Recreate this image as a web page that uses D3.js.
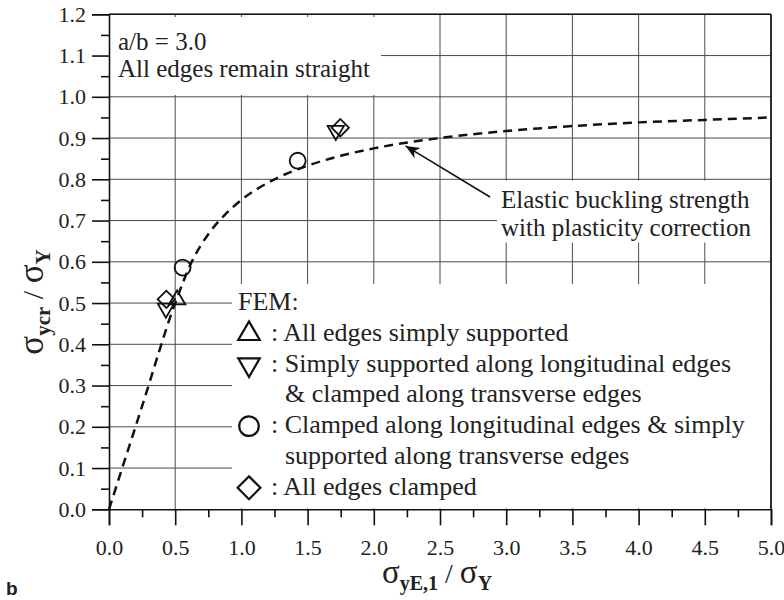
<!DOCTYPE html>
<html lang="en">
<head>
<meta charset="UTF-8">
<script src="https://d3js.org/d3.v7.min.js"></script>
<style>
    body { margin: 0; background: #fff; }
    svg text { font-family: "Liberation Serif", "DejaVu Serif", serif; fill: #222; }
    .grid line { stroke: #4a4a4a; stroke-width: 1; }
    .axis path, .axis line { stroke: #111; stroke-width: 1.6; }
    .axis text { font-size: 22px; font-family: "Liberation Serif", "DejaVu Serif", serif; }
    .note { font-size: 25px; }
    .leg { font-size: 26px; }
</style>
</head>
<body>
<svg id="chart" width="784" height="600"></svg>
<script>
// curve values
const curveX = [0, 0.25, 0.5, 0.625, 0.75, 0.875, 1.0, 1.25, 1.5, 1.75, 2.0, 2.5, 3.0, 3.5, 4.0, 4.5, 5.0];
const curveY = [0, 0.25, 0.5, 0.60, 0.667, 0.714, 0.75, 0.80, 0.833, 0.857, 0.875, 0.90, 0.917, 0.929, 0.938, 0.944, 0.95];

// FEM points
const triUpX = [0.515];
const triUpY = [0.508];
const triDownX = [0.43, 1.713];
const triDownY = [0.487, 0.918];
const circleX = [0.556, 1.425];
const circleY = [0.586, 0.845];
const diamondX = [0.433, 1.747];
const diamondY = [0.509, 0.925];

const xMajor = d3.range(0, 5.01, 0.5);
const xMinor = d3.range(0.25, 5, 0.5);
const yMajor = d3.range(0, 1.201, 0.1);
const yMinor = d3.range(0.05, 1.2, 0.1);

const legendRows = [
    {type: "head", text: "FEM:"},
    {type: "triUp", text: ": All edges simply supported"},
    {type: "triDown", text: ": Simply supported along longitudinal edges"},
    {type: "cont", text: "& clamped along transverse edges"},
    {type: "circle", text: ": Clamped along longitudinal edges & simply"},
    {type: "cont", text: "supported along transverse edges"},
    {type: "diamond", text: ": All edges clamped"}
];

const serif = "'Liberation Serif', 'DejaVu Serif', serif";
const svg = d3.select("#chart");
const x = d3.scaleLinear().domain([0, 5]).range([109, 771]);
const y = d3.scaleLinear().domain([0, 1.2]).range([509.3, 14.3]);

// grid
const grid = svg.append("g").attr("class", "grid");
grid.selectAll("line.v").data(xMajor.slice(1)).join("line")
    .attr("x1", d => x(d)).attr("x2", d => x(d))
    .attr("y1", y(0)).attr("y2", y(1.2));
grid.selectAll("line.h").data(yMajor.slice(1)).join("line")
    .attr("x1", x(0)).attr("x2", x(5))
    .attr("y1", d => y(d)).attr("y2", d => y(d));

// white boxes over the grid
svg.append("rect").attr("x", x(0) + 1).attr("y", 17).attr("width", 381 - x(0) - 1).attr("height", 78).attr("fill", "#fff");
svg.append("rect").attr("x", 497).attr("y", 180.5).attr("width", x(5) - 498).attr("height", 62).attr("fill", "#fff");
svg.append("rect").attr("x", 232).attr("y", 284).attr("width", x(5) - 233).attr("height", y(0) - 285).attr("fill", "#fff");

// curve
const line = d3.line().x(d => x(d[0])).y(d => y(d[1])).curve(d3.curveMonotoneX);
svg.append("path").datum(curveX.map((v, i) => [v, curveY[i]]))
    .attr("d", line)
    .attr("fill", "none").attr("stroke", "#111")
    .attr("stroke-width", 2.5).attr("stroke-dasharray", "9,6");

// symbols
const shapes = {
    triUp: {t: d3.symbolTriangle, big: 200, small: 115, rot: 0},
    triDown: {t: d3.symbolTriangle, big: 200, small: 115, rot: 180},
    circle: {t: d3.symbolCircle, big: 300, small: 200, rot: 0},
    diamond: {t: d3.symbolSquare, big: 260, small: 150, rot: 45}
};
function drawPts(xs, ys, kind) {
    const s = shapes[kind];
    svg.append("g").selectAll("path").data(xs.map((v, i) => [v, ys[i]])).join("path")
        .attr("d", d3.symbol().type(s.t).size(s.small))
        .attr("transform", d => `translate(${x(d[0])},${y(d[1])}) rotate(${s.rot})`)
        .attr("fill", "none").attr("stroke", "#111").attr("stroke-width", 1.8);
}
drawPts(diamondX, diamondY, "diamond");
drawPts(triDownX, triDownY, "triDown");
drawPts(triUpX, triUpY, "triUp");
drawPts(circleX, circleY, "circle");

// axes
const xAxis = svg.append("g").attr("class", "axis").attr("transform", `translate(0,${y(0)})`)
    .call(d3.axisBottom(x).tickValues(xMajor).tickSize(16).tickPadding(14).tickFormat(d3.format(".1f")));
svg.append("g").attr("class", "axis").attr("transform", `translate(0,${y(0)})`)
    .call(d3.axisBottom(x).tickValues(xMinor).tickSize(8).tickFormat(""))
    .select(".domain").remove();
const yAxis = svg.append("g").attr("class", "axis").attr("transform", `translate(${x(0)},0)`)
    .call(d3.axisLeft(y).tickValues(yMajor).tickSize(17).tickPadding(6).tickFormat(d3.format(".1f")));
svg.append("g").attr("class", "axis").attr("transform", `translate(${x(0)},0)`)
    .call(d3.axisLeft(y).tickValues(yMinor).tickSize(8).tickFormat(""))
    .select(".domain").remove();
xAxis.attr("font-family", serif).attr("font-size", 22);
yAxis.attr("font-family", serif).attr("font-size", 22);
// top and right frame
svg.append("line").attr("x1", x(0)).attr("x2", x(5)).attr("y1", y(1.2)).attr("y2", y(1.2)).attr("stroke", "#111").attr("stroke-width", 1.6);
svg.append("line").attr("x1", x(5)).attr("x2", x(5)).attr("y1", y(1.2)).attr("y2", y(0)).attr("stroke", "#111").attr("stroke-width", 1.6);

// top-left note
svg.append("text").attr("class", "note").attr("x", 118).attr("y", 50).text("a/b = 3.0");
svg.append("text").attr("class", "note").attr("x", 118).attr("y", 77).text("All edges remain straight");

// annotation + arrow
svg.append("defs").append("marker")
    .attr("id", "arr").attr("viewBox", "-14 -7 16 14")
    .attr("refX", 0).attr("refY", 0)
    .attr("markerWidth", 16).attr("markerHeight", 14)
    .attr("markerUnits", "userSpaceOnUse").attr("orient", "auto")
    .append("path").attr("d", "M0,0 L-14,-6 L-10,0 L-14,6 Z").attr("fill", "#111");
svg.append("line")
    .attr("x1", x(2.878)).attr("y1", y(0.757))
    .attr("x2", x(2.24)).attr("y2", y(0.881))
    .attr("stroke", "#111").attr("stroke-width", 1.6)
    .attr("marker-end", "url(#arr)");
svg.append("text").attr("class", "note").attr("x", 501).attr("y", 208).text("Elastic buckling strength");
svg.append("text").attr("class", "note").attr("x", 501).attr("y", 236).text("with plasticity correction");

// legend
const lg = svg.append("g");
legendRows.forEach((r, i) => {
    const base = 310 + i * 30.8;
    let tx = 271;
    if (r.type === "head") tx = 238;
    if (r.type === "cont") tx = 285;
    lg.append("text").attr("class", "leg").attr("x", tx).attr("y", base).text(r.text);
    if (shapes[r.type]) {
        const s = shapes[r.type];
        lg.append("path")
            .attr("d", d3.symbol().type(s.t).size(s.big))
            .attr("transform", `translate(249,${base - 7}) rotate(${s.rot})`)
            .attr("fill", "none").attr("stroke", "#111").attr("stroke-width", 2.2);
    }
});

// axis titles
const xt = svg.append("text").attr("x", 437).attr("y", 583).attr("text-anchor", "middle");
xt.append("tspan").attr("font-size", 33).text("σ");
xt.append("tspan").attr("font-size", 20).attr("font-weight", "bold").attr("dy", 7).text("yE,1");
xt.append("tspan").attr("font-size", 28).attr("dy", -7).text(" / ");
xt.append("tspan").attr("font-size", 33).text("σ");
xt.append("tspan").attr("font-size", 20).attr("font-weight", "bold").attr("dy", 7).text("Y");

const yt = svg.append("text").attr("transform", "translate(43,302) rotate(-90)").attr("text-anchor", "middle");
yt.append("tspan").attr("font-size", 35).text("σ");
yt.append("tspan").attr("font-size", 21).attr("font-weight", "bold").attr("dy", 7).text("ycr");
yt.append("tspan").attr("font-size", 30).attr("dy", -7).text(" / ");
yt.append("tspan").attr("font-size", 35).text("σ");
yt.append("tspan").attr("font-size", 21).attr("font-weight", "bold").attr("dy", 7).text("Y");

svg.append("text").attr("x", 6).attr("y", 595)
    .style("font-family", "'Liberation Sans', Arial, sans-serif")
    .attr("font-size", 19).attr("font-weight", "bold").text("b");
</script>
</body>
</html>
